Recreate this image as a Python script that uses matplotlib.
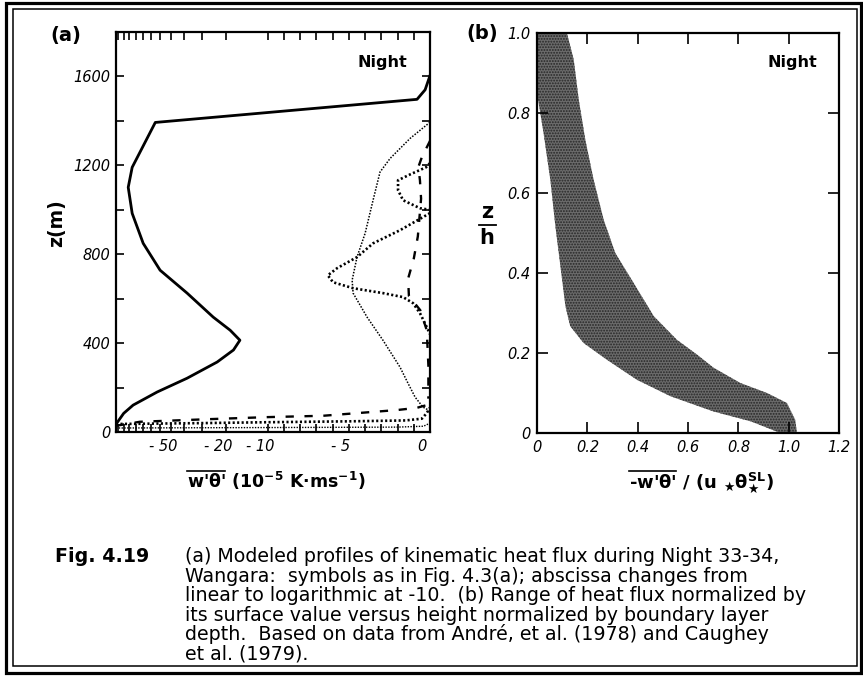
import numpy as np
import matplotlib
matplotlib.use('Agg')
import matplotlib.pyplot as plt
import matplotlib.transforms as mtransforms
from matplotlib.patches import Rectangle
from matplotlib.lines import Line2D

W, H = 863, 678
plt.rcParams['font.family'] = ['DejaVu Sans']
plt.rcParams['mathtext.fontset'] = 'dejavusans'
plt.rcParams['hatch.linewidth'] = 0.9

# ---------------- data: panel (a) ----------------
solid_z = [35, 84, 121, 180, 242, 315, 369, 413, 458, 517, 625, 728, 849, 984, 1101, 1191, 1393, 1497, 1540, 1604]
solid_x = [-125, -110, -94, -63, -38.3, -23.2, -17.7, -15.9, -18.7, -24.8, -38.3, -60, -79.5, -95.5, -102, -95.5, -65, -0.8, -0.3, 0]

fine_z = [1394, 1321, 1231, 1170, 1043, 894, 787, 683, 625, 517, 413, 292, 220, 157, 112, 95]
fine_x = [0, -1.23, -2.46, -3.08, -3.51, -4.0, -4.5, -4.8, -4.74, -3.88, -2.9, -1.85, -1.36, -0.92, -0.43, 0]

coarse_top_z = [1210, 1191, 1160, 1133, 1088, 1043, 1007, 1000]
coarse_top_x = [0, -0.25, -1.2, -1.97, -1.97, -1.66, -0.62, 0]
coarse_mid_z = [985, 908, 849, 787, 737, 705, 674, 647, 625, 607, 580, 535, 472, 440]
coarse_mid_x = [0, -1.85, -3.51, -4.5, -5.73, -6.3, -5.98, -4.74, -2.9, -1.66, -1.05, -0.62, -0.2, 0]
coarse_low_z = [36, 40, 44, 48, 52, 60, 85, 110]
coarse_low_x = [-125, -30, -10, -5, -1.5, -0.5, -0.2, 0]

dash_up_z = [1310, 1237, 1192, 1133, 1050, 880, 780, 690, 612, 548, 458, 300, 150]
dash_up_x = [0, -0.5, -0.72, -0.62, -0.55, -0.75, -1.0, -1.35, -1.3, -0.6, -0.2, -0.1, -0.1]
dash_low_z = [28, 46, 58, 67, 73, 99, 109, 125]
dash_low_x = [-125, -84, -26, -10, -6.6, -2.0, -0.8, 0]

fine_low_z = [18, 20, 22, 26, 40]
fine_low_x = [-125, -10, -2, -0.4, 0]

a_xticks = [-120, -110, -100, -90, -80, -70, -60, -50, -40, -30, -20,
            -10, -9, -8, -7, -6, -5, -4, -3, -2, -1, 0]
a_xlabels = {-50: '- 50', -20: '- 20', -10: '- 10', -5: '- 5', 0: '0'}
a_yticks = [0, 200, 400, 600, 800, 1000, 1200, 1400, 1600]
a_ylabels = {0: '0', 400: '400', 800: '800', 1200: '1200', 1600: '1600'}

# ---------------- data: panel (b) ----------------
b_left_z = [1.0, 0.85, 0.75, 0.633, 0.517, 0.417, 0.317, 0.267, 0.225, 0.183, 0.133, 0.092, 0.054, 0.029, 0.0]
b_left_x = [0.0, 0.0, 0.026, 0.053, 0.073, 0.093, 0.113, 0.132, 0.185, 0.278, 0.397, 0.53, 0.70, 0.85, 0.967]
b_right_z = [1.0, 0.933, 0.833, 0.733, 0.633, 0.533, 0.45, 0.375, 0.292, 0.233, 0.196, 0.163, 0.125, 0.1, 0.075, 0.033, 0.0]
b_right_x = [0.119, 0.146, 0.166, 0.192, 0.225, 0.265, 0.311, 0.384, 0.464, 0.556, 0.636, 0.702, 0.808, 0.914, 0.993, 1.026, 1.033]
b_xticks = [0, 0.2, 0.4, 0.6, 0.8, 1.0, 1.2]
b_xlabels = ['0', '0.2', '0.4', '0.6', '0.8', '1.0', '1.2']
b_yticks = [0, 0.2, 0.4, 0.6, 0.8, 1.0]
b_ylabels = ['0', '0.2', '0.4', '0.6', '0.8', '1.0']

caption_lines = [
    "(a) Modeled profiles of kinematic heat flux during Night 33-34,",
    "Wangara:  symbols as in Fig. 4.3(a); abscissa changes from",
    "linear to logarithmic at -10.  (b) Range of heat flux normalized by",
    "its surface value versus height normalized by boundary layer",
    "depth.  Based on data from André, et al. (1978) and Caughey",
    "et al. (1979).",
]

# ---------------- scale: linear to -10, log beyond ----------------
K = 8.53

def fwd(x):
    x = np.asarray(x, dtype=float)
    lg = np.log10(np.clip(-x, 10, None) / 10.0)
    return np.where(x >= -10, x, -10 - K * lg)

def inv(u):
    u = np.asarray(u, dtype=float)
    return np.where(u >= -10, u, -10 * 10 ** ((-10 - u) / K))

def fx(px):
    return px / W

def fy(py):
    return 1 - py / H

fig = plt.figure(figsize=(W / 100, H / 100), dpi=100)
renderer = fig.canvas.get_renderer()

TICK_FS = 10.5

# ---------------- panel (a) ----------------
ax1 = fig.add_axes([fx(116), fy(432), (430 - 116) / W, 400 / H])
ax1.set_xscale('function', functions=(fwd, inv))
ax1.set_xlim(-125, 0)
ax1.set_ylim(0, 1800)
ax1.plot(solid_x, solid_z, color='black', lw=2.0, solid_joinstyle='round')
ax1.plot(fine_x, fine_z, color='black', lw=1.1, linestyle=(0, (1, 1)))
for xs, zs in [(coarse_top_x, coarse_top_z), (coarse_mid_x, coarse_mid_z), (coarse_low_x, coarse_low_z)]:
    ax1.plot(xs, zs, color='black', lw=1.9, linestyle=(0, (0.8, 0.9)))
for xs, zs in [(dash_up_x, dash_up_z), (dash_low_x, dash_low_z)]:
    ax1.plot(xs, zs, color='black', lw=1.7, linestyle=(0, (3.5, 4.5)))
ax1.plot(fine_low_x, fine_low_z, color='black', lw=1.0, linestyle=(0, (1, 1)))

ax1.set_xticks(a_xticks)
ax1.set_xticklabels([a_xlabels.get(t, '') for t in a_xticks])
ax1.set_yticks(a_yticks)
ax1.set_yticklabels([a_ylabels.get(t, '') for t in a_yticks])
ax1.xaxis.set_minor_locator(matplotlib.ticker.NullLocator())
ax1.tick_params(axis='both', direction='in', top=True, right=True, length=6, width=1.2,
                labelsize=TICK_FS)
ax1.tick_params(axis='x', pad=5)
ax1.tick_params(axis='y', pad=4)
shift = mtransforms.ScaledTranslation(-8 / 100, 0, fig.dpi_scale_trans)
for lab in ax1.get_xticklabels():
    lab.set_transform(lab.get_transform() + shift)
for lab in ax1.get_xticklabels() + ax1.get_yticklabels():
    lab.set_fontstyle('italic')
for s in ax1.spines.values():
    s.set_linewidth(1.6)
ax1.text(0.847, 0.925, 'Night', transform=ax1.transAxes, ha='center', va='center',
         fontsize=11.5, fontweight='bold')

# ---------------- panel (b) ----------------
ax2 = fig.add_axes([fx(537), fy(433), (839 - 537) / W, 400 / H])
ax2.set_xlim(0, 1.2)
ax2.set_ylim(0, 1.0)
zz = np.linspace(0, 1, 400)
lx = np.interp(zz, b_left_z[::-1], b_left_x[::-1])
rx = np.interp(zz, b_right_z[::-1], b_right_x[::-1])
ax2.fill_betweenx(zz, lx, rx, facecolor='#6b6b6b', edgecolor='#262626', hatch='......', linewidth=0)
ax2.set_xticks(b_xticks)
ax2.set_xticklabels(b_xlabels)
ax2.set_yticks(b_yticks)
ax2.set_yticklabels(b_ylabels)
ax2.tick_params(axis='both', direction='in', top=True, right=True, length=8, width=1.2,
                labelsize=TICK_FS, pad=5)
for lab in ax2.get_xticklabels() + ax2.get_yticklabels():
    lab.set_fontstyle('italic')
for s in ax2.spines.values():
    s.set_linewidth(1.6)
ax2.text(0.844, 0.925, 'Night', transform=ax2.transAxes, ha='center', va='center',
         fontsize=11.5, fontweight='bold')

# ---------------- labels ----------------
fig.text(fx(66), fy(35), '(a)', fontsize=14, fontweight='bold', ha='center', va='center')
fig.text(fx(482), fy(34), '(b)', fontsize=14, fontweight='bold', ha='center', va='center')
fig.text(fx(57), fy(223), 'z(m)', fontsize=13.5, fontweight='bold', rotation=90,
         ha='center', va='center')
fig.text(fx(487), fy(212), 'z', fontsize=15, fontweight='bold', ha='center', va='center')
fig.add_artist(Line2D([fx(479), fx(496)], [fy(225), fy(225)], color='black', lw=1.3,
                      transform=fig.transFigure))
fig.text(fx(487), fy(238), 'h', fontsize=15, fontweight='bold', ha='center', va='center')


def barred_label(cx, base_py, bar_part, rest, fs, bar_py):
    t = fig.text(0, 0, bar_part + rest, fontsize=fs, fontweight='bold',
                 ha='left', va='baseline')
    w = t.get_window_extent(renderer).width
    x0 = cx - w / 2
    t.set_position((fx(x0), fy(base_py)))
    tb = fig.text(0, 0, bar_part, fontsize=fs, fontweight='bold', ha='left', va='baseline')
    wb = tb.get_window_extent(renderer).width
    tb.remove()
    fig.add_artist(Line2D([fx(x0), fx(x0 + wb)], [fy(bar_py), fy(bar_py)], color='black',
                          lw=1.2, transform=fig.transFigure))


barred_label(276, 488, "w'θ'", r" (10$^{\mathbf{-5}}$ K·ms$^{\mathbf{-1}}$)", 12.5, 471)
barred_label(701, 488, "-w'θ'", r" / (u $_{\bigstar}$θ$_{\bigstar}^{\mathbf{SL}}$)", 13, 471)

# ---------------- caption ----------------
CAP_FS = 13.7
base = 562
fig.text(fx(55), fy(base), 'Fig. 4.19', fontsize=CAP_FS, fontweight='bold',
         ha='left', va='baseline')
for i, line in enumerate(caption_lines):
    fig.text(fx(185), fy(base + i * 19.6), line, fontsize=CAP_FS, ha='left', va='baseline')

# ---------------- frame ----------------
fig.add_artist(Rectangle((fx(5.8), fy(672.5)), (860.5 - 5.8) / W, (672.5 - 3) / H,
                         fill=False, edgecolor='black', lw=2.3, transform=fig.transFigure))
fig.add_artist(Rectangle((fx(12.5), fy(666)), (857.3 - 12.5) / W, (666 - 9) / H,
                         fill=False, edgecolor='black', lw=1.1, transform=fig.transFigure))

fig.savefig('out.png', dpi=100)
